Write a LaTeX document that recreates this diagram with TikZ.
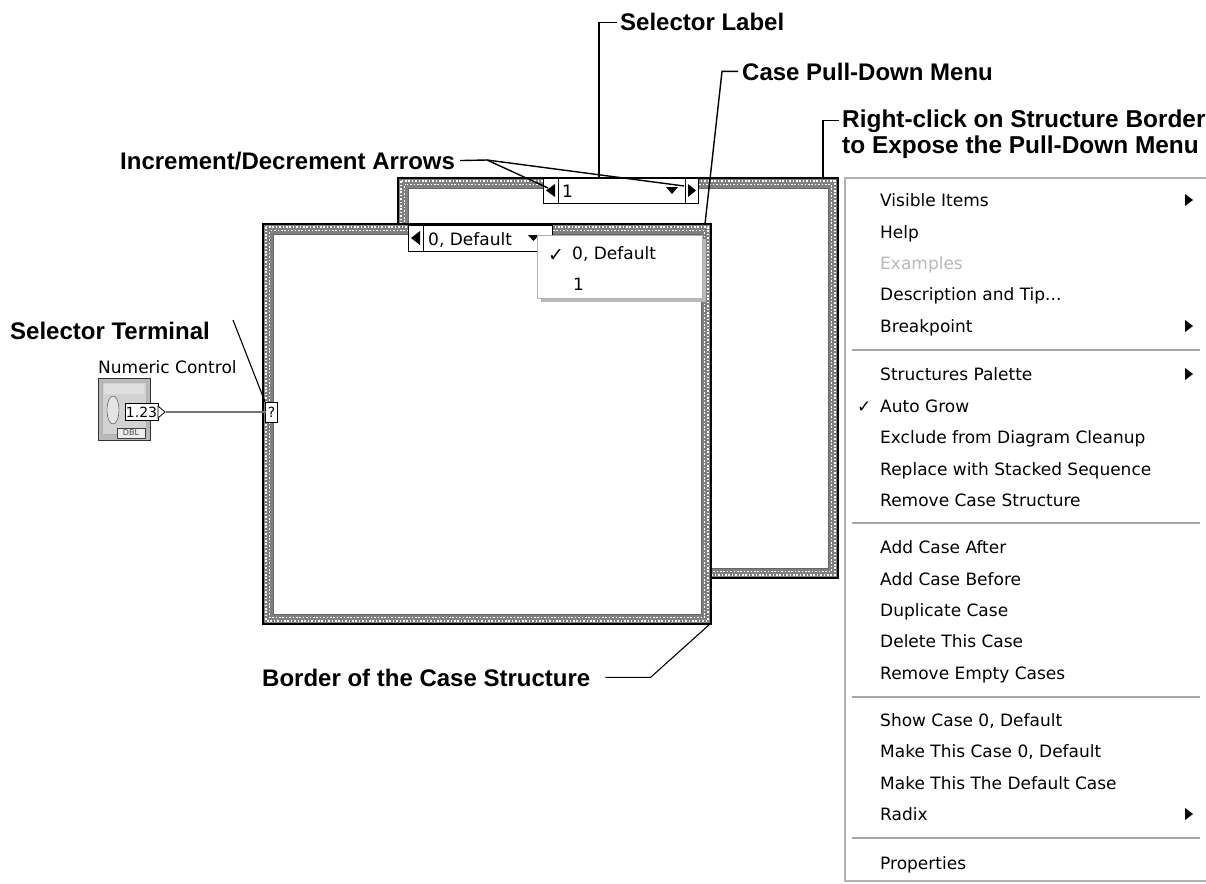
\documentclass[tikz,border=0pt]{standalone}
\usepackage{fontspec}
\setmainfont{DejaVu Sans}
\newfontfamily\calloutfont{Liberation Sans}

% hatched border band of a case structure: outer corner (#1,#2) to (#3,#4)
\newcommand\casebandframe[4]{%
  \fill[black!50,even odd rule] (#1,#2) rectangle (#3,#4) (#1+10,#2+10) rectangle (#3-10,#4-10);
  \draw[white,line width=1.6pt,dash pattern=on 1.6pt off 1.8pt] (#1+3.2,#2+3.2) rectangle (#3-3.2,#4-3.2);
  \draw[white,line width=1.6pt,dash pattern=on 1.6pt off 1.8pt,dash phase=1.7pt] (#1+6.6,#2+6.6) rectangle (#3-6.6,#4-6.6);
  \draw[black,line width=1.3pt] (#1,#2) rectangle (#3,#4);
  \draw[black!60,line width=0.6pt] (#1+10,#2+10) rectangle (#3-10,#4-10);
}

\tikzset{
  callout/.style={font=\calloutfont\bfseries\fontsize{24}{28}\selectfont,anchor=base west,inner sep=0pt},
  leader/.style={draw=black,line width=1.4pt},
  ui/.style={font=\fontsize{17}{20}\selectfont,anchor=base west,inner sep=0pt},
  sep/.style={draw=gray!70,line width=1.3pt},
  tri/.style={fill=black},
  selbox/.style={draw=black,line width=1pt,fill=white},
}

\begin{document}
\begin{tikzpicture}[x=1pt,y=-1pt]
\useasboundingbox (0,0) rectangle (1206,883);
\fill[white] (0,0) rectangle (1206,883);

% ---------- back frame (case 1) ----------
\casebandframe{398}{178}{838}{578}
% selector label of the back frame
\draw[selbox] (543,178) rectangle (698,203);
\draw[black,line width=1pt] (558,178) -- (558,203) (685,178) -- (685,203);
\fill[tri] (555,184) -- (546,190.5) -- (555,197) -- cycle;
\fill[tri] (688,184) -- (696,190.5) -- (688,197) -- cycle;
\fill[tri] (666,187) -- (678,187) -- (672,194) -- cycle;
\node[ui] (backsel) at (562,197) {1};
\coordinate (selTop) at (599,178);
\coordinate (incR) at (684,186);
\coordinate (incL) at (548,188);

% ---------- front frame (case 0, Default) ----------
\fill[white] (263,224) rectangle (711,624);
\casebandframe{263}{224}{711}{624}
\draw[selbox] (408,225) rectangle (552,251);
\draw[black,line width=1pt] (423,225) -- (423,251);
\fill[tri] (420,231) -- (411,238) -- (420,245) -- cycle;
\fill[tri] (528,235) -- (539,235) -- (533.5,241) -- cycle;
\node[ui] (frontsel) at (428,245) {0, Default};
\coordinate (pdTop) at (705,224);
\coordinate (frontCorner) at (710,624);
\coordinate (rcTop) at (823,178);

% pull-down list of cases
\fill[gray!55] (541,239) rectangle (706,302);
\draw[draw=gray!60,fill=white,line width=0.8pt] (537,235) rectangle (702,298);
\node[ui,font=\fontsize{19}{20}\selectfont] (pdcheck) at (548,261) {✓};
\node[ui] (pdzero) at (572,259) {0, Default};
\node[ui] (pdone) at (573,290) {1};

% ---------- selector terminal, wire and numeric control ----------
\node[draw=black,fill=white,line width=0.8pt,minimum width=12pt,minimum height=20pt,inner sep=0pt,
      font=\fontsize{14}{14}\selectfont] (term) at (271.5,412.5) {?};
\fill[gray!45!black!70] (166,411) rectangle (266,413);
\node[ui] (numlabel) at (98,373) {Numeric Control};
\draw[gray!40!black,fill=gray!55,line width=1pt] (98,378) rectangle (150,440);
\draw[gray!60,fill=gray!35,line width=0.8pt] (102,382) rectangle (146,434);
\fill[gray!25] (104,384) rectangle (144,394);
\draw[gray!50!black,fill=gray!20] (113,410) ellipse [x radius=6,y radius=14];
\node[draw=black,fill=white,line width=0.8pt,inner sep=1pt,minimum width=33pt,minimum height=17pt,
      font=\fontsize{14}{14}\selectfont] (numdisp) at (141.5,412) {1.23};
\draw[black,fill=white,line width=0.8pt] (158,406) -- (165,412) -- (158,418) -- cycle;
\node[draw=gray!50!black,fill=gray!15,inner sep=0pt,minimum width=28pt,minimum height=10pt,
      font=\fontsize{8}{8}\selectfont,text=gray!60!black] (dbl) at (131,433) {DBL};

% ---------- right-click shortcut menu ----------
\draw[draw=gray!60,fill=white,line width=1.2pt] (845,178) rectangle (1212,881);
\foreach \txt/\yy [count=\i] in {
  Visible Items/200, Help/232, Breakpoint/326,
  Structures Palette/374, Auto Grow/406, Exclude from Diagram Cleanup/437,
  Replace with Stacked Sequence/469, Remove Case Structure/500,
  Add Case After/547, Add Case Before/579, Duplicate Case/610, Delete This Case/641,
  Remove Empty Cases/673, {Show Case 0, Default}/720, {Make This Case 0, Default}/751,
  Make This The Default Case/783, Radix/814, Properties/863}
  \node[ui] (item\i) at (880,\yy+6) {\txt};
\node[ui,text=gray!55] (itemExamples) at (880,269) {Examples};
\node[ui] (itemDescr) at (880,300) {Description and Tip...};
\node[ui] (autocheck) at (857,412) {✓};
\foreach \yy in {350,523,697,838}
  \draw[sep] (852,\yy) -- (1200,\yy);
\foreach \yy in {200,326,374,814}
  \fill[tri] (1185,\yy-6) -- (1193,\yy) -- (1185,\yy+6) -- cycle;

% ---------- callouts ----------
\node[callout] (selLabel) at (620,31) {Selector Label};
\draw[leader] ([xshift=-3pt]selLabel.west) -| (selTop);

\node[callout] (casePD) at (742,80) {Case Pull-Down Menu};
\draw[leader] ([xshift=-4pt]casePD.west) -- ++(-16,0) -- (pdTop);

\node[callout,font=\calloutfont\bfseries\fontsize{24.4}{28}\selectfont] (rc1) at (842,127) {Right-click on Structure Border};
\node[callout,font=\calloutfont\bfseries\fontsize{24.4}{28}\selectfont] (rc2) at (842,153) {to Expose the Pull-Down Menu};
\draw[leader] ([xshift=-3pt]rc1.west) -| (rcTop);

\node[callout] (incdec) at (120,169) {Increment/Decrement Arrows};
\coordinate (incSplit) at (487,160);
\draw[leader] ([xshift=5pt]incdec.east) -- (incSplit) -- (incL);
\draw[leader] (incSplit) -- (incR);

\node[callout] (selTerm) at (10,339) {Selector Terminal};
\coordinate (stStart) at (233,320);
\draw[leader,line width=1.1pt] (stStart) -- (term.north west);

\node[callout] (borderLbl) at (262,686) {Border of the Case Structure};
\draw[leader,line width=1.1pt] ([xshift=15pt]borderLbl.east) -- ++(45,0) -- (frontCorner);
\end{tikzpicture}
\end{document}
